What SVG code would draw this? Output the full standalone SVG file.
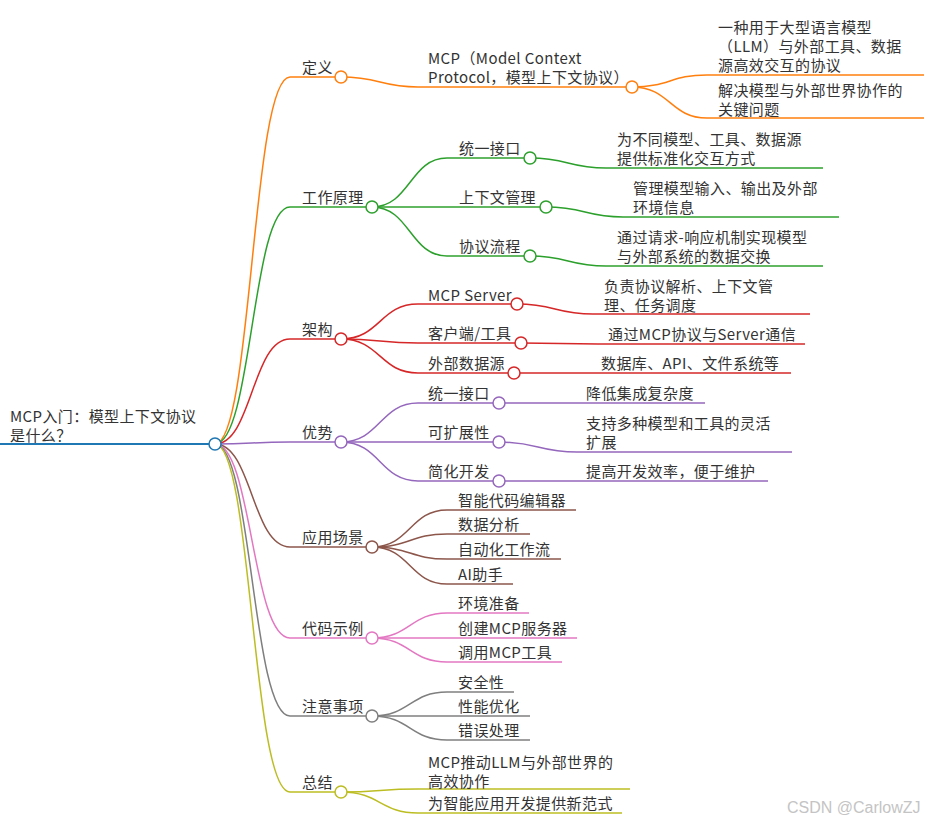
<svg xmlns="http://www.w3.org/2000/svg" width="931" height="823" viewBox="0 0 931 823">
<style>
text{font-family:"Noto Sans CJK SC","Noto Sans",sans-serif;font-size:15px;letter-spacing:0.4px;fill:#333}
.l{fill:none;stroke-width:1.5}
.c{fill:#fff;stroke-width:1.5}
.b{stroke:#1f77b4}.o{stroke:#ff7f0e}.g{stroke:#2ca02c}.r{stroke:#d62728}.p{stroke:#9467bd}.n{stroke:#8c564b}.k{stroke:#e377c2}.y{stroke:#7f7f7f}.v{stroke:#bcbd22}
.wm{font-family:"Liberation Sans",sans-serif;font-size:16px;letter-spacing:0;fill:#c4c4c4}
</style>
<rect width="931" height="823" fill="#fff"/>
<g id="connectors">
<path class="l o" d="M215 444C252 444 252 77 290 77"/>
<path class="l g" d="M215 444C252 444 252 207 290 207"/>
<path class="l r" d="M215 444C252 444 252 339 290 339"/>
<path class="l p" d="M215 444C252 444 252 442 290 442"/>
<path class="l n" d="M215 444C252 444 252 547 290 547"/>
<path class="l k" d="M215 444C252 444 252 638 290 638"/>
<path class="l y" d="M215 444C252 444 252 716 290 716"/>
<path class="l v" d="M215 444C252 444 252 792 290 792"/>
<path class="l o" d="M341 77C380 77 380 87 418 87"/>
<path class="l o" d="M632 87C670 87 670 75 707 75"/>
<path class="l o" d="M632 87C670 87 670 118 707 118"/>
<path class="l g" d="M372 207C410 207 410 158 447 158"/>
<path class="l g" d="M372 207C410 207 410 207 447 207"/>
<path class="l g" d="M372 207C410 207 410 256 447 256"/>
<path class="l g" d="M530 158C568 158 568 168 606 168"/>
<path class="l g" d="M546 207C585 207 585 217 623 217"/>
<path class="l g" d="M530 256C568 256 568 266 606 266"/>
<path class="l r" d="M341 339C380 339 380 304 418 304"/>
<path class="l r" d="M341 339C380 339 380 343 418 343"/>
<path class="l r" d="M341 339C380 339 380 373 418 373"/>
<path class="l r" d="M517 304C555 304 555 314 593 314"/>
<path class="l r" d="M521 343C560 343 560 344 598 344"/>
<path class="l r" d="M514 373C552 373 552 373 590 373"/>
<path class="l p" d="M341 442C380 442 380 403 418 403"/>
<path class="l p" d="M341 442C380 442 380 442 418 442"/>
<path class="l p" d="M341 442C380 442 380 481 418 481"/>
<path class="l p" d="M499 403C538 403 538 403 577 403"/>
<path class="l p" d="M499 442C538 442 538 452 577 452"/>
<path class="l p" d="M499 481C538 481 538 481 577 481"/>
<path class="l n" d="M372 547C410 547 410 510 447 510"/>
<path class="l n" d="M372 547C410 547 410 534 447 534"/>
<path class="l n" d="M372 547C410 547 410 559 447 559"/>
<path class="l n" d="M372 547C410 547 410 584 447 584"/>
<path class="l k" d="M372 638C410 638 410 613 447 613"/>
<path class="l k" d="M372 638C410 638 410 638 447 638"/>
<path class="l k" d="M372 638C410 638 410 662 447 662"/>
<path class="l y" d="M372 716C410 716 410 692 447 692"/>
<path class="l y" d="M372 716C410 716 410 716 447 716"/>
<path class="l y" d="M372 716C410 716 410 740 447 740"/>
<path class="l v" d="M341 792C380 792 380 789 418 789"/>
<path class="l v" d="M341 792C380 792 380 813 418 813"/>
</g>
<g id="root"><path class="l b" style="stroke-width:2" d="M0 444H215"/><circle class="c b" cx="215" cy="444" r="6"/><text x="10" y="422">MCP入门：模型上下文协议</text><text x="10" y="441">是什么？</text></g>
<g id="n-def"><path class="l o" d="M290 77H341"/><circle class="c o" cx="341" cy="77" r="6"/><text x="302" y="73">定义</text></g>
<g id="n-def-mcp"><path class="l o" d="M418 87H632"/><circle class="c o" cx="632" cy="87" r="6"/><text x="428" y="64">MCP（Model Context</text><text x="428" y="83">Protocol，模型上下文协议）</text></g>
<g id="n-def-1"><path class="l o" d="M707 75H924"/><text x="718" y="33">一种用于大型语言模型</text><text x="718" y="52">（LLM）与外部工具、数据</text><text x="718" y="71">源高效交互的协议</text></g>
<g id="n-def-2"><path class="l o" d="M707 118H924"/><text x="718" y="96">解决模型与外部世界协作的</text><text x="718" y="115">关键问题</text></g>
<g id="n-work"><path class="l g" d="M290 207H372"/><circle class="c g" cx="372" cy="207" r="6"/><text x="302" y="203">工作原理</text></g>
<g id="n-work-1"><path class="l g" d="M447 158H530"/><circle class="c g" cx="530" cy="158" r="6"/><text x="459" y="154">统一接口</text></g>
<g id="n-work-1a"><path class="l g" d="M606 168H823"/><text x="617" y="145">为不同模型、工具、数据源</text><text x="617" y="164">提供标准化交互方式</text></g>
<g id="n-work-2"><path class="l g" d="M447 207H546"/><circle class="c g" cx="546" cy="207" r="6"/><text x="459" y="203">上下文管理</text></g>
<g id="n-work-2a"><path class="l g" d="M623 217H839"/><text x="633" y="194">管理模型输入、输出及外部</text><text x="633" y="213">环境信息</text></g>
<g id="n-work-3"><path class="l g" d="M447 256H530"/><circle class="c g" cx="530" cy="256" r="6"/><text x="459" y="252">协议流程</text></g>
<g id="n-work-3a"><path class="l g" d="M606 266H823"/><text x="617" y="243">通过请求-响应机制实现模型</text><text x="617" y="262">与外部系统的数据交换</text></g>
<g id="n-arch"><path class="l r" d="M290 339H341"/><circle class="c r" cx="341" cy="339" r="6"/><text x="302" y="335">架构</text></g>
<g id="n-arch-1"><path class="l r" d="M418 304H517"/><circle class="c r" cx="517" cy="304" r="6"/><text x="428" y="301">MCP Server</text></g>
<g id="n-arch-1a"><path class="l r" d="M593 314H810"/><text x="604" y="292">负责协议解析、上下文管</text><text x="604" y="311">理、任务调度</text></g>
<g id="n-arch-2"><path class="l r" d="M418 343H521"/><circle class="c r" cx="521" cy="343" r="6"/><text x="428" y="339">客户端/工具</text></g>
<g id="n-arch-2a"><path class="l r" d="M598 344H805"/><text x="608" y="340">通过MCP协议与Server通信</text></g>
<g id="n-arch-3"><path class="l r" d="M418 373H514"/><circle class="c r" cx="514" cy="373" r="6"/><text x="428" y="369">外部数据源</text></g>
<g id="n-arch-3a"><path class="l r" d="M590 373H791"/><text x="601" y="369">数据库、API、文件系统等</text></g>
<g id="n-adv"><path class="l p" d="M290 442H341"/><circle class="c p" cx="341" cy="442" r="6"/><text x="302" y="438">优势</text></g>
<g id="n-adv-1"><path class="l p" d="M418 403H499"/><circle class="c p" cx="499" cy="403" r="6"/><text x="428" y="399">统一接口</text></g>
<g id="n-adv-1a"><path class="l p" d="M577 403H705"/><text x="586" y="399">降低集成复杂度</text></g>
<g id="n-adv-2"><path class="l p" d="M418 442H499"/><circle class="c p" cx="499" cy="442" r="6"/><text x="428" y="438">可扩展性</text></g>
<g id="n-adv-2a"><path class="l p" d="M577 452H792"/><text x="586" y="429">支持多种模型和工具的灵活</text><text x="586" y="448">扩展</text></g>
<g id="n-adv-3"><path class="l p" d="M418 481H499"/><circle class="c p" cx="499" cy="481" r="6"/><text x="428" y="477">简化开发</text></g>
<g id="n-adv-3a"><path class="l p" d="M577 481H768"/><text x="586" y="477">提高开发效率，便于维护</text></g>
<g id="n-app"><path class="l n" d="M290 547H372"/><circle class="c n" cx="372" cy="547" r="6"/><text x="302" y="543">应用场景</text></g>
<g id="n-app-1"><path class="l n" d="M447 510H576"/><text x="458" y="506">智能代码编辑器</text></g>
<g id="n-app-2"><path class="l n" d="M447 534H530"/><text x="458" y="530">数据分析</text></g>
<g id="n-app-3"><path class="l n" d="M447 559H561"/><text x="458" y="555">自动化工作流</text></g>
<g id="n-app-4"><path class="l n" d="M447 584H513"/><text x="458" y="580">AI助手</text></g>
<g id="n-code"><path class="l k" d="M290 638H372"/><circle class="c k" cx="372" cy="638" r="6"/><text x="302" y="634">代码示例</text></g>
<g id="n-code-1"><path class="l k" d="M447 613H529"/><text x="458" y="609">环境准备</text></g>
<g id="n-code-2"><path class="l k" d="M447 638H577"/><text x="458" y="634">创建MCP服务器</text></g>
<g id="n-code-3"><path class="l k" d="M447 662H562"/><text x="458" y="658">调用MCP工具</text></g>
<g id="n-note"><path class="l y" d="M290 716H372"/><circle class="c y" cx="372" cy="716" r="6"/><text x="302" y="712">注意事项</text></g>
<g id="n-note-1"><path class="l y" d="M447 692H514"/><text x="458" y="688">安全性</text></g>
<g id="n-note-2"><path class="l y" d="M447 716H530"/><text x="458" y="712">性能优化</text></g>
<g id="n-note-3"><path class="l y" d="M447 740H530"/><text x="458" y="736">错误处理</text></g>
<g id="n-sum"><path class="l v" d="M290 792H341"/><circle class="c v" cx="341" cy="792" r="6"/><text x="302" y="788">总结</text></g>
<g id="n-sum-1"><path class="l v" d="M418 789H630"/><text x="428" y="768">MCP推动LLM与外部世界的</text><text x="428" y="787">高效协作</text></g>
<g id="n-sum-2"><path class="l v" d="M418 813H622"/><text x="428" y="809">为智能应用开发提供新范式</text></g>
<text class="wm" x="787" y="813">CSDN @CarlowZJ</text>
</svg>
